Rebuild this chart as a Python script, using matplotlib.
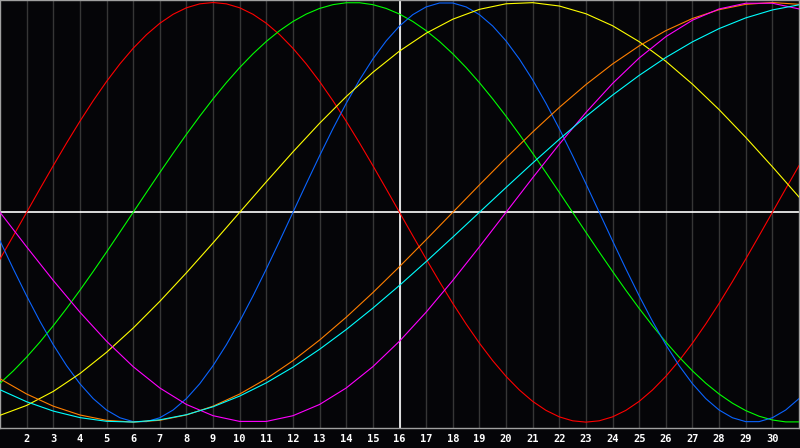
"""Biorhythm chart: seven cycles over one month, today marked at day 16."""
import matplotlib

matplotlib.use("Agg")
import matplotlib.pyplot as plt

# days of the month shown on the x axis
days = list(range(1, 32))
half_days = [1 + 0.5 * i for i in range(61)]
tick_days = list(range(2, 31))
today = 16

# fast cycles, read every half day (-1 .. 1)
red = [-0.2225, -0.1120, 0.0, 0.1120, 0.2225, 0.3303, 0.4339, 0.5320, 0.6235, 0.7071, 0.7818, 0.8467,
       0.9010, 0.9439, 0.9749, 0.9937, 1.0, 0.9937, 0.9749, 0.9439, 0.9010, 0.8467, 0.7818, 0.7071,
       0.6235, 0.5320, 0.4339, 0.3303, 0.2225, 0.1120, 0.0, -0.1120, -0.2225, -0.3303, -0.4339, -0.5320,
       -0.6235, -0.7071, -0.7818, -0.8467, -0.9010, -0.9439, -0.9749, -0.9937, -1.0, -0.9937, -0.9749,
       -0.9439, -0.9010, -0.8467, -0.7818, -0.7071, -0.6235, -0.5320, -0.4339, -0.3303, -0.2225, -0.1120,
       0.0, 0.1120, 0.2225]
green = [-0.8146, -0.7557, -0.6901, -0.6182, -0.5406, -0.4582, -0.3717, -0.2817, -0.1893, -0.0951, 0.0,
         0.0951, 0.1893, 0.2817, 0.3717, 0.4582, 0.5406, 0.6182, 0.6901, 0.7557, 0.8146, 0.8660, 0.9096,
         0.9450, 0.9718, 0.9898, 0.9989, 0.9989, 0.9898, 0.9718, 0.9450, 0.9096, 0.8660, 0.8146, 0.7557,
         0.6901, 0.6182, 0.5406, 0.4582, 0.3717, 0.2817, 0.1893, 0.0951, 0.0, -0.0951, -0.1893, -0.2817,
         -0.3717, -0.4582, -0.5406, -0.6182, -0.6901, -0.7557, -0.8146, -0.8660, -0.9096, -0.9450, -0.9718,
         -0.9898, -0.9989, -0.9989]
blue = [-0.1362, -0.2698, -0.3984, -0.5196, -0.6311, -0.7308, -0.8170, -0.8879, -0.9423, -0.9791, -0.9977,
        -0.9977, -0.9791, -0.9423, -0.8879, -0.8170, -0.7308, -0.6311, -0.5196, -0.3984, -0.2698, -0.1362,
        0.0, 0.1362, 0.2698, 0.3984, 0.5196, 0.6311, 0.7308, 0.8170, 0.8879, 0.9423, 0.9791, 0.9977,
        0.9977, 0.9791, 0.9423, 0.8879, 0.8170, 0.7308, 0.6311, 0.5196, 0.3984, 0.2698, 0.1362, 0.0,
        -0.1362, -0.2698, -0.3984, -0.5196, -0.6311, -0.7308, -0.8170, -0.8879, -0.9423, -0.9791, -0.9977,
        -0.9977, -0.9791, -0.9423, -0.8879]

# slow cycles, read once a day (-1 .. 1)
yellow = [-0.9675, -0.9204, -0.8536, -0.7686, -0.6672, -0.5517, -0.4245, -0.2881, -0.1456, 0.0, 0.1456,
          0.2881, 0.4245, 0.5517, 0.6672, 0.7686, 0.8536, 0.9204, 0.9675, 0.9940, 0.9993, 0.9834, 0.9465,
          0.8894, 0.8133, 0.7198, 0.6109, 0.4894, 0.3572, 0.2174, 0.0730]
orange = [-0.7934, -0.8660, -0.9239, -0.9659, -0.9914, -1.0, -0.9914, -0.9659, -0.9239, -0.8660, -0.7934,
          -0.7071, -0.6088, -0.5, -0.3827, -0.2588, -0.1305, 0.0, 0.1305, 0.2588, 0.3827, 0.5, 0.6088,
          0.7071, 0.7934, 0.8660, 0.9239, 0.9659, 0.9914, 1.0, 0.9914]
magenta = [0.0, -0.1646, -0.3247, -0.4759, -0.6142, -0.7357, -0.8372, -0.9158, -0.9694, -0.9966, -0.9966,
           -0.9694, -0.9158, -0.8372, -0.7357, -0.6142, -0.4759, -0.3247, -0.1646, 0.0, 0.1646, 0.3247,
           0.4759, 0.6142, 0.7357, 0.8372, 0.9158, 0.9694, 0.9966, 0.9966, 0.9694]
cyan = [-0.8457, -0.9028, -0.9473, -0.9785, -0.9961, -0.9996, -0.9890, -0.9646, -0.9267, -0.8757, -0.8126,
        -0.7380, -0.6527, -0.5587, -0.4566, -0.3482, -0.2349, -0.1183, 0.0, 0.1183, 0.2349, 0.3482, 0.4566,
        0.5587, 0.6527, 0.7380, 0.8126, 0.8757, 0.9267, 0.9646, 0.9890]

series = [
    (half_days, red, "#ff0000"),
    (half_days, green, "#00ff00"),
    (half_days, blue, "#0a64ff"),
    (days, yellow, "#ffff00"),
    (days, orange, "#ff7f00"),
    (days, magenta, "#ff00ff"),
    (days, cyan, "#00ffff"),
]

BG = "#050508"

fig = plt.figure(figsize=(8, 4.48), dpi=100, facecolor=BG)
ax = fig.add_axes([0, 20 / 448, 799 / 800, 428 / 448])
ax.set_facecolor(BG)

for d in tick_days:
    ax.axvline(d, color="#363636", lw=1, zorder=1)
ax.axhline(0, color="white", lw=1.2, zorder=2)
ax.axvline(today, color="white", lw=1.2, zorder=2)

for xs, values, color in series:
    ax.plot(xs, values, color=color, lw=0.8, zorder=3)

ax.set_xlim(1, 31)
ax.set_ylim(-1.028, 1.012)
ax.set_yticks([])
ax.set_xticks(tick_days)
ax.set_xticklabels([str(d) for d in tick_days], color="white", fontsize=7.5,
                   fontweight="bold", family="DejaVu Sans Mono")
ax.tick_params(axis="x", length=0, pad=4)
for spine in ax.spines.values():
    spine.set_color("#a0a0a0")
    spine.set_linewidth(1)

fig.savefig("out.png", dpi=100, facecolor=BG)
